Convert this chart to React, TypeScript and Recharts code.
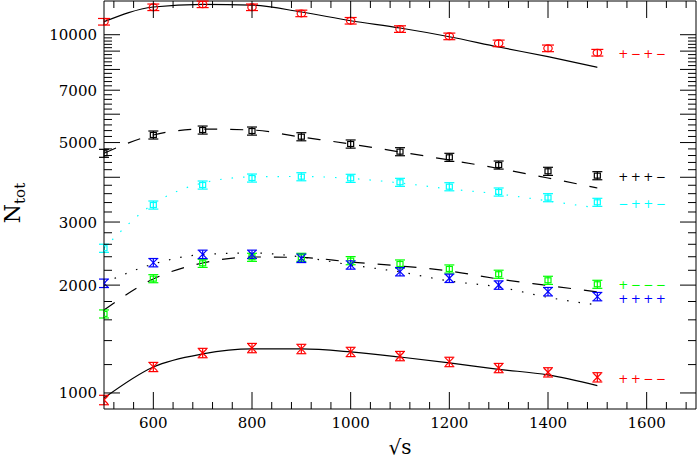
import React from 'react';
import { ComposedChart, Line, Scatter, XAxis, YAxis, ErrorBar, ReferenceLine } from 'recharts';

// ---------- data ----------
const sqrtS = [500, 600, 700, 800, 900, 1000, 1100, 1200, 1300, 1400, 1500];

// "+-+-" (red circles, solid curve)
const pmpmVals = [10870, 11930, 12160, 11930, 11470, 10940, 10370, 9895, 9460, 9163, 8909];
const pmpmErr = [230, 250, 255, 250, 240, 230, 220, 210, 200, 195, 190];
const pmpmFit = [10870, 11950, 12160, 12100, 11570, 10940, 10440, 9872, 9240, 8683, 8110];

// "+++-" (black, dashed curve)
const pppmVals = [4667, 5250, 5420, 5385, 5192, 4954, 4716, 4548, 4328, 4157, 4042];
const pppmErr = [120, 135, 140, 140, 135, 130, 122, 118, 112, 108, 105];
const pppmFit = [4667, 5250, 5450, 5420, 5180, 4954, 4707, 4470, 4233, 3981, 3734];

// "-++-" (cyan, dotted curve)
const mppmVals = [2535, 3347, 3806, 3981, 4015, 3974, 3873, 3765, 3639, 3509, 3406];
const mppmErr = [66, 87, 99, 103, 104, 103, 100, 98, 95, 91, 88];
const mppmFit = [2537, 3370, 3856, 4010, 4020, 3970, 3856, 3710, 3593, 3435, 3283];

// "+---" (green, dashed curve)
const pmmmVals = [1662, 2085, 2301, 2392, 2392, 2341, 2291, 2219, 2145, 2063, 2011];
const pmmmErr = [43, 54, 60, 62, 62, 61, 60, 58, 56, 54, 52];
const pmmmFit = [1704, 2080, 2306, 2396, 2389, 2321, 2262, 2190, 2080, 1995, 1914];

// "++++" (blue, dotted curve)
const ppppVals = [2024, 2311, 2438, 2438, 2376, 2277, 2181, 2090, 2001, 1918, 1858];
const ppppErr = [55, 62, 66, 66, 64, 61, 59, 56, 54, 52, 50];
const ppppFit = [2028, 2291, 2435, 2459, 2397, 2277, 2177, 2054, 1976, 1848, 1760];

// "++--" (red crosses, solid curve)
const ppmmVals = [956, 1182, 1293, 1335, 1327, 1302, 1268, 1221, 1174, 1142, 1106];
const ppmmErr = [29, 35, 39, 40, 40, 39, 38, 37, 35, 34, 33];
const ppmmFit = [968, 1182, 1285, 1327, 1327, 1302, 1260, 1213, 1164, 1123, 1048];

const xTickLabels = [600, 800, 1000, 1200, 1400, 1600];
const yTickLabels = [1000, 2000, 3000, 5000, 7000, 10000];
const xTicks = Array.from({ length: 30 }, (_, i) => 520 + 40 * i);
const yTicks = Array.from({ length: 46 }, (_, i) => 1000 + 200 * i);
const X_DOMAIN: [number, number] = [500, 1700];
const Y_DOMAIN: [number, number] = [902, 12420];

// ---------- layout ----------
const W = 698, H = 458;
const M = { top: 1, right: 2, bottom: 0, left: 0 };
const Y_AXIS_W = 104;
const X_AXIS_H = 49;
const PL = M.left + Y_AXIS_W;
const PR = W - M.right;
const PT = M.top;
const PB = H - M.bottom - X_AXIS_H;

const LABEL_FONT = 'DejaVu Serif';

const pts = (vals: number[], err?: number[]) =>
  sqrtS.map((x, i) => (err ? { x, y: vals[i], e: err[i] } : { x, y: vals[i] }));

type Kind = 'circle' | 'box' | 'x';

const series = [
  { tag: '+\u2212+\u2212', color: '#ff0000', kind: 'circle' as Kind, cap: 6, vals: pmpmVals, err: pmpmErr, fit: pmpmFit, lineColor: '#000', dash: undefined, tagDy: 0 },
  { tag: '+++\u2212', color: '#000000', kind: 'box' as Kind, cap: 5, vals: pppmVals, err: pppmErr, fit: pppmFit, lineColor: '#000', dash: '13 13', tagDy: 0 },
  { tag: '\u2212++\u2212', color: '#00ffff', kind: 'box' as Kind, cap: 5, vals: mppmVals, err: mppmErr, fit: mppmFit, lineColor: '#00ffff', dash: '1.5 10', tagDy: 0 },
  { tag: '+\u2212\u2212\u2212', color: '#00ff00', kind: 'box' as Kind, cap: 5, vals: pmmmVals, err: pmmmErr, fit: pmmmFit, lineColor: '#000', dash: '13 13', tagDy: -1 },
  { tag: '++++', color: '#0000ff', kind: 'x' as Kind, cap: 5, vals: ppppVals, err: ppppErr, fit: ppppFit, lineColor: '#000', dash: '1.5 10', tagDy: 1 },
  { tag: '++\u2212\u2212', color: '#ff0000', kind: 'x' as Kind, cap: 5, vals: ppmmVals, err: ppmmErr, fit: ppmmFit, lineColor: '#000', dash: undefined, tagDy: 0 },
];

const markerShape = (kind: Kind, color: string) => (p: any) => {
  const { cx, cy } = p;
  if (cx == null || cy == null) return <g />;
  if (kind === 'circle') {
    return <ellipse cx={cx} cy={cy} rx={4.2} ry={3.4} fill="none" stroke={color} strokeWidth={1.2} />;
  }
  if (kind === 'box') {
    return <rect x={cx - 3} y={cy - 2.5} width={6} height={5} fill="none" stroke={color} strokeWidth={1.2} />;
  }
  return (
    <g stroke={color} strokeWidth={1.2}>
      <line x1={cx - 4} y1={cy - 4} x2={cx + 4} y2={cy + 4} />
      <line x1={cx - 4} y1={cy + 4} x2={cx + 4} y2={cy - 4} />
    </g>
  );
};

const tagShape = (tag: string, color: string, dy: number) => (p: any) => {
  const { cx, cy } = p;
  if (cx == null || cy == null) return <g />;
  return (
    <text x={cx + 21} y={cy + 5.8 + dy} fill={color} fontFamily="DejaVu Sans" fontSize={12} letterSpacing={2.4}>
      {tag}
    </text>
  );
};

function XTick(props: any) {
  const { x, payload } = props;
  const v = payload.value;
  const len = v % 200 === 0 ? 17 : 7;
  return (
    <g>
      <line x1={x} x2={x} y1={PB} y2={PB - len} stroke="#000" />
      <line x1={x} x2={x} y1={PT} y2={PT + len} stroke="#000" />
      {xTickLabels.includes(v) && (
        <text x={x} y={428} textAnchor="middle" fontFamily={LABEL_FONT} fontSize={15} fill="#000">
          {v}
        </text>
      )}
    </g>
  );
}

function YTick(props: any) {
  const { y, payload } = props;
  const v = payload.value;
  const len = v % 1000 === 0 ? 16 : 8;
  return (
    <g>
      <line x1={PL} x2={PL + len} y1={y} y2={y} stroke="#000" />
      <line x1={PR - len} x2={PR} y1={y} y2={y} stroke="#000" />
      {yTickLabels.includes(v) && (
        <text x={97} y={y + 5.5} textAnchor="end" fontFamily={LABEL_FONT} fontSize={15} fill="#000">
          {v}
        </text>
      )}
    </g>
  );
}

const YTitle = () => (
  <text transform={`translate(20, 203) rotate(-90)`} textAnchor="middle" fontFamily={LABEL_FONT} fontSize={22} fill="#000">
    N<tspan fontSize={15} dy={5}>tot</tspan>
  </text>
);

const XTitle = () => (
  <text x={(PL + PR) / 2} y={454} textAnchor="middle" fontFamily={LABEL_FONT} fontSize={20} fill="#000">
    {'\u221As'}
  </text>
);

export default function App() {
  return (
    <div style={{ position: 'absolute', left: 0, top: 0, background: '#fff' }}>
      <ComposedChart width={W} height={H} margin={M}>
        <XAxis
          type="number"
          dataKey="x"
          domain={X_DOMAIN}
          ticks={xTicks}
          interval={0}
          tick={(p: any) => <XTick {...p} />}
          tickLine={false}
          axisLine={{ stroke: '#000' }}
          height={X_AXIS_H}
          allowDataOverflow
          label={{ content: () => <XTitle /> }}
        />
        <YAxis
          type="number"
          dataKey="y"
          scale="log"
          domain={Y_DOMAIN}
          ticks={yTicks}
          interval={0}
          tick={(p: any) => <YTick {...p} />}
          tickLine={false}
          axisLine={{ stroke: '#000' }}
          width={Y_AXIS_W}
          allowDataOverflow
          label={{ content: () => <YTitle /> }}
        />
        <ReferenceLine x={X_DOMAIN[1]} stroke="#000" />
        <ReferenceLine y={Y_DOMAIN[1]} stroke="#000" />
        {series.map((s) => (
          <Line
            key={'fit' + s.tag}
            data={pts(s.fit)}
            dataKey="y"
            type="monotone"
            stroke={s.lineColor}
            strokeWidth={1.2}
            strokeDasharray={s.dash}
            dot={false}
            activeDot={false}
            isAnimationActive={false}
          />
        ))}
        {series.map((s) => (
          <Scatter
            key={'pts' + s.tag}
            data={pts(s.vals, s.err)}
            dataKey="y"
            shape={markerShape(s.kind, s.color)}
            isAnimationActive={false}
          >
            <ErrorBar dataKey="e" direction="y" width={s.cap} stroke={s.color} strokeWidth={1.2} isAnimationActive={false} />
          </Scatter>
        ))}
        {series.map((s) => (
          <Scatter
            key={'tag' + s.tag}
            data={pts(s.vals).slice(-1)}
            dataKey="y"
            shape={tagShape(s.tag, s.color, s.tagDy)}
            isAnimationActive={false}
          />
        ))}
      </ComposedChart>
    </div>
  );
}
